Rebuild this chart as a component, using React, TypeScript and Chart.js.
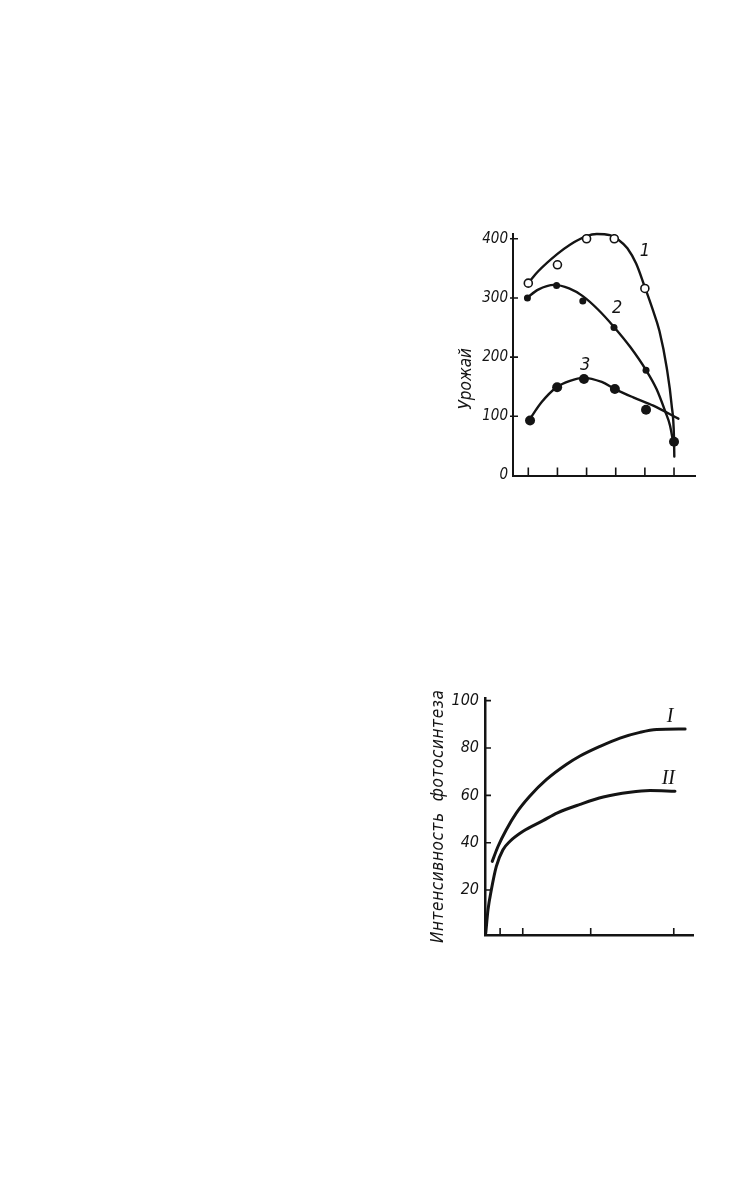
import React, { useEffect, useRef } from "react";
import { Chart, registerables } from "chart.js";

Chart.register(...registerables);

const INK = "#141414";
const NARROW = "'Liberation Sans Narrow', 'DejaVu Sans Condensed', 'Liberation Sans', sans-serif";
const SERIF = "'Liberation Serif', 'DejaVu Serif', serif";

// ---------- Top chart: Урожай ----------
const TOP_Y_TITLE = "Урожай";
const TOP_X_TICKS = [1, 2, 3, 4, 5, 6];
const TOP_Y_TICKS = [0, 100, 200, 300, 400];

// measured points
const S1_X = [1, 2, 3, 3.95, 5];
const S1_Y = [325, 356, 400, 400, 316];
const S2_X = [0.97, 1.97, 2.87, 3.94, 5.04];
const S2_Y = [300, 321, 295, 250, 178];
const S3_X = [1.06, 1.99, 2.91, 3.97, 5.04, 6.0];
const S3_Y = [93, 149, 163, 146, 111, 57];

// drawn curves
const C1_X = [1.03, 1.34, 1.99, 2.43, 2.98, 3.35, 3.8, 4.1, 4.4, 4.7, 5.0, 5.25, 5.5, 5.75, 5.92, 6.0, 6.01];
const C1_Y = [327, 345, 374, 390, 404, 408, 406, 398, 384, 358, 318, 283, 244, 182, 118, 62, 32];
const C2_X = [0.95, 1.34, 1.89, 2.4, 2.87, 3.4, 3.94, 4.5, 5.04, 5.4, 5.7, 5.86, 5.97];
const C2_Y = [300, 314, 322, 316, 303, 280, 251, 217, 178, 146, 108, 85, 57];
const C3_X = [1.02, 1.46, 1.97, 2.43, 2.89, 3.52, 3.97, 4.6, 5.29, 6.15];
const C3_Y = [93, 124, 149, 160, 165, 158, 146, 132, 118, 96];

const TOP_LABELS = ["1", "2", "3"];
const TOP_LABEL_X = [5.0, 4.05, 2.95];
const TOP_LABEL_Y = [379, 283, 186];

// ---------- Bottom chart: Интенсивность фотосинтеза ----------
const BOT_Y_TITLE = "Интенсивность  фотосинтеза";
const BOT_X_TICKS = [1, 2.5, 7, 12.5];
const BOT_Y_TICKS = [20, 40, 60, 80, 100];

const CI_X = [0.48, 0.86, 1.41, 2.07, 2.96, 4.06, 5.38, 6.29, 7.62, 8.94, 10.26, 11.37, 13.25];
const CI_Y = [32.1, 38.4, 45.5, 52.5, 59.6, 66.6, 73.0, 76.6, 80.7, 84.2, 86.6, 87.8, 88.0];
const CII_X = [0.05, 0.2, 0.42, 0.75, 1.19, 1.64, 2.52, 3.84, 4.8, 6.3, 7.83, 9.6, 10.93, 12.58];
const CII_Y = [1.8, 11.7, 20.1, 30.0, 37.0, 40.5, 44.8, 49.3, 52.6, 56.2, 59.3, 61.3, 62.0, 61.7];

const BOT_LABELS = ["I", "II"];
const BOT_LABEL_X = [12.25, 12.14];
const BOT_LABEL_Y = [93.3, 66.9];

const pts = (xs: number[], ys: number[]) => xs.map((x, i) => ({ x, y: ys[i] }));

const decorPlugin = {
  id: "decor",
  afterDraw(chart: any, _args: any, opts: any) {
    const { ctx, chartArea } = chart;
    const x = chart.scales.x;
    const y = chart.scales.y;
    ctx.save();
    ctx.strokeStyle = INK;
    ctx.lineWidth = opts.tickWidth;
    ctx.lineCap = "butt";
    ctx.beginPath();
    for (const v of opts.xTicks) {
      const px = x.getPixelForValue(v);
      ctx.moveTo(px, chartArea.bottom);
      ctx.lineTo(px, chartArea.bottom - opts.xTickLen);
    }
    for (const v of opts.yTicks) {
      const py = y.getPixelForValue(v);
      ctx.moveTo(chartArea.left - opts.yTickOut, py);
      ctx.lineTo(chartArea.left + opts.yTickLen, py);
    }
    ctx.stroke();

    ctx.fillStyle = INK;
    ctx.textAlign = "center";
    ctx.textBaseline = "middle";
    ctx.font = opts.labelFont;
    opts.labels.forEach((t: string, i: number) => {
      ctx.fillText(t, x.getPixelForValue(opts.labelX[i]), y.getPixelForValue(opts.labelY[i]));
    });

    // axis title, rotated
    ctx.font = opts.titleFont;
    const tx = y.left + opts.titleOffsetX;
    const ty = (chartArea.top + chartArea.bottom) / 2 + opts.titleOffsetY;
    const w = ctx.measureText(opts.title).width;
    const n = opts.title.length;
    const spacing = Math.max(0, (opts.titleLength - w) / Math.max(1, n - 1));
    (ctx as any).letterSpacing = spacing.toFixed(2) + "px";
    ctx.translate(tx, ty);
    ctx.rotate(-Math.PI / 2);
    ctx.fillText(opts.title, spacing / 2, 0);
    ctx.restore();
  },
};

function useChart(ref: React.RefObject<HTMLCanvasElement | null>, makeConfig: () => any) {
  useEffect(() => {
    if (!ref.current) return;
    const chart = new Chart(ref.current, makeConfig());
    return () => chart.destroy();
  }, []);
}

const curve = (xs: number[], ys: number[], width: number) => ({
  type: "line",
  data: pts(xs, ys),
  borderColor: INK,
  borderWidth: width,
  pointRadius: 0,
  cubicInterpolationMode: "monotone",
  fill: false,
  clip: false,
  borderCapStyle: "round",
  borderJoinStyle: "round",
});

function TopChart() {
  const ref = useRef<HTMLCanvasElement>(null);
  useChart(ref, () => ({
    type: "scatter",
    data: {
      datasets: [
        { type: "scatter", data: pts(S1_X, S1_Y), pointRadius: 4, pointBackgroundColor: "#ffffff", pointBorderColor: INK, pointBorderWidth: 1.6 },
        { type: "scatter", data: pts(S2_X, S2_Y), pointRadius: 3.5, pointBackgroundColor: INK, pointBorderColor: INK, pointBorderWidth: 0 },
        { type: "scatter", data: pts(S3_X, S3_Y), pointRadius: 5, pointBackgroundColor: INK, pointBorderColor: INK, pointBorderWidth: 0 },
        curve(C1_X, C1_Y, 2.4),
        curve(C2_X, C2_Y, 2.4),
        curve(C3_X, C3_Y, 2.4),
      ],
    },
    options: {
      responsive: false,
      animation: false,
      layout: { padding: { left: 0, top: 12.5, right: 15, bottom: 10.5 } },
      plugins: {
        legend: { display: false },
        tooltip: { enabled: false },
        decor: {
          xTicks: TOP_X_TICKS,
          yTicks: TOP_Y_TICKS.filter((v) => v > 0),
          xTickLen: 8,
          yTickLen: 5,
          yTickOut: 3,
          tickWidth: 1.6,
          labels: TOP_LABELS,
          labelX: TOP_LABEL_X,
          labelY: TOP_LABEL_Y,
          labelFont: `italic 18px ${NARROW}`,
          title: TOP_Y_TITLE,
          titleFont: `italic 17px ${NARROW}`,
          titleOffsetX: 27,
          titleOffsetY: 24,
          titleLength: 53,
        },
      },
      scales: {
        x: {
          type: "linear",
          min: 0.475,
          max: 6.72,
          grid: { display: false },
          border: { display: true, color: INK, width: 2 },
          ticks: { display: false },
          afterFit: (s: any) => {
            s.height = 4;
          },
        },
        y: {
          type: "linear",
          min: 0,
          max: 408,
          afterBuildTicks: (s: any) => {
            s.ticks = TOP_Y_TICKS.map((v) => ({ value: v }));
          },
          grid: { display: false, drawTicks: false },
          border: { display: true, color: INK, width: 2 },
          ticks: { color: INK, padding: 5, font: { family: NARROW, size: 15, style: "italic" } },
          afterFit: (s: any) => {
            s.width = 73;
          },
        },
      },
    },
    plugins: [decorPlugin],
  }));
  return (
    <div style={{ position: "absolute", left: 440, top: 220, width: 270, height: 270 }}>
      <canvas ref={ref} width={270} height={270} style={{ width: 270, height: 270, display: "block" }} />
    </div>
  );
}

function BottomChart() {
  const ref = useRef<HTMLCanvasElement>(null);
  useChart(ref, () => ({
    type: "scatter",
    data: {
      datasets: [curve(CI_X, CI_Y, 3), curve(CII_X, CII_Y, 3)],
    },
    options: {
      responsive: false,
      animation: false,
      layout: { padding: { left: 0, top: 18.3, right: 16.6, bottom: 21 } },
      plugins: {
        legend: { display: false },
        tooltip: { enabled: false },
        decor: {
          xTicks: BOT_X_TICKS,
          yTicks: BOT_Y_TICKS,
          xTickLen: 7,
          yTickLen: 6,
          yTickOut: 0,
          tickWidth: 1.6,
          labels: BOT_LABELS,
          labelX: BOT_LABEL_X,
          labelY: BOT_LABEL_Y,
          labelFont: `italic 20px ${SERIF}`,
          title: BOT_Y_TITLE,
          titleFont: `italic 17px ${NARROW}`,
          titleOffsetX: 18.3,
          titleOffsetY: 0,
          titleLength: 253,
        },
      },
      scales: {
        x: {
          type: "linear",
          min: 0,
          max: 13.8,
          grid: { display: false },
          border: { display: true, color: INK, width: 2.5 },
          ticks: { display: false },
          afterFit: (s: any) => {
            s.height = 4;
          },
        },
        y: {
          type: "linear",
          min: 1,
          max: 101,
          afterBuildTicks: (s: any) => {
            s.ticks = BOT_Y_TICKS.map((v) => ({ value: v }));
          },
          grid: { display: false, drawTicks: false },
          border: { display: true, color: INK, width: 2.5 },
          ticks: { color: INK, padding: 6, font: { family: NARROW, size: 16, style: "italic" } },
          afterFit: (s: any) => {
            s.width = 65;
          },
        },
      },
    },
    plugins: [decorPlugin],
  }));
  return (
    <div style={{ position: "absolute", left: 420, top: 680, width: 290, height: 280 }}>
      <canvas ref={ref} width={290} height={280} style={{ width: 290, height: 280, display: "block" }} />
    </div>
  );
}

export default function App() {
  return (
    <div>
      <TopChart />
      <BottomChart />
    </div>
  );
}
